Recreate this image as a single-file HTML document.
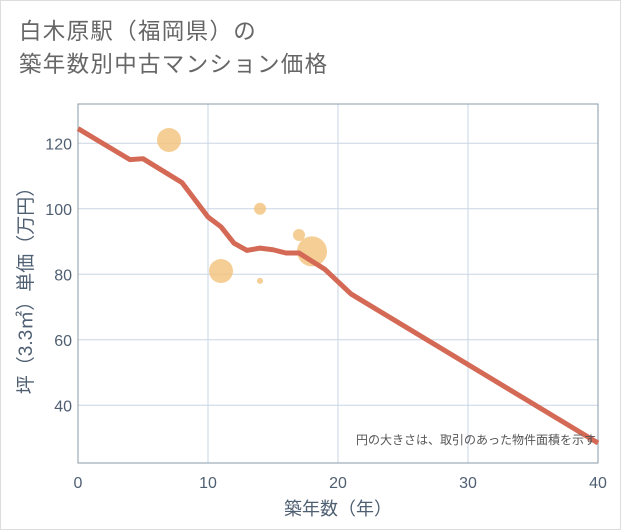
<!DOCTYPE html>
<html><head><meta charset="utf-8"><style>
body{margin:0;background:#fff;}
#wrap{position:relative;width:619px;height:528px;border:1px solid #ddd;background:#fff;font-family:"Liberation Sans","Noto Sans CJK JP",sans-serif;}
#title{position:absolute;left:18px;top:14px;font-size:22.5px;line-height:33px;color:#666;letter-spacing:1.3px;}
svg{position:absolute;left:0;top:0;}
</style></head><body>
<div id="wrap">
<div id="title">白木原駅（福岡県）の<br>築年数別中古マンション価格</div>
<svg id="chart" width="621" height="530"></svg>
</div>
<script>
const xTicks=[0,10,20,30,40];
const yTicks=[40,60,80,100,120];
const lineX=[0,4,5,8,10,11,12,13,14,15,16,17,18,19,21,40];
const lineY=[124.5,115,115.3,108,97.5,94.5,89.5,87.3,88,87.5,86.5,86.5,84,81.5,74,28.5];
const bubX=[7,14,11,14,17,18];
const bubY=[121,100,81,78,92,87];
const bubR=[12,6,12,3,6,15];
const L=77,R=597,T=103,B=462;
const sx=v=>L+(v-0)/40*(R-L);
const sy=v=>142.3+(120-v)*(404.3-142.3)/80;
const svg=document.getElementById('chart');
const NS='http://www.w3.org/2000/svg';
function mk(t,a){const e=document.createElementNS(NS,t);for(const k in a)e.setAttribute(k,a[k]);svg.appendChild(e);return e;}
xTicks.forEach(v=>{
 const g=mk('line',{x1:sx(v),x2:sx(v),y1:T,y2:B,stroke:'#c9d6e3','stroke-width':1});
 
 
 const t=mk('text',{x:sx(v),y:487,'text-anchor':'middle','font-size':16,fill:'#4f5f72'});
 t.textContent=v;
 
 
});
yTicks.forEach(v=>{
 const g=mk('line',{x1:L,x2:R,y1:sy(v),y2:sy(v),stroke:'#c9d6e3','stroke-width':1});
 
 
 const t=mk('text',{x:71,y:sy(v)+6,'text-anchor':'end','font-size':16,fill:'#4f5f72'});
 t.textContent=v;
 
 
});
const fr=mk('rect',{x:L,y:T,width:R-L,height:B-T,fill:'none',stroke:'#8899aa','stroke-width':1});


bubX.forEach((v,i)=>{
 const c=mk('circle',{cx:sx(v),cy:sy(bubY[i]),r:bubR[i],fill:'#f2c27a','fill-opacity':0.8});
 
 
});
const pl=mk('polyline',{points:lineX.map((v,i)=>sx(v)+','+sy(lineY[i])).join(' '),fill:'none',stroke:'#d46a55','stroke-width':5,'stroke-linejoin':'round'});


const note=mk('text',{x:595,y:443,'text-anchor':'end','font-size':12,fill:'#555'});
note.textContent='円の大きさは、取引のあった物件面積を示す';


const xt=mk('text',{x:337,y:514,'text-anchor':'middle','font-size':18,fill:'#4f5f72'});
xt.textContent='築年数（年）';


const yt=mk('text',{x:0,y:0,'text-anchor':'middle','font-size':19,fill:'#4f5f72',transform:'translate(31,285) rotate(-90)'});
yt.textContent='坪（3.3㎡）単価（万円）';


</script>
</body></html>
